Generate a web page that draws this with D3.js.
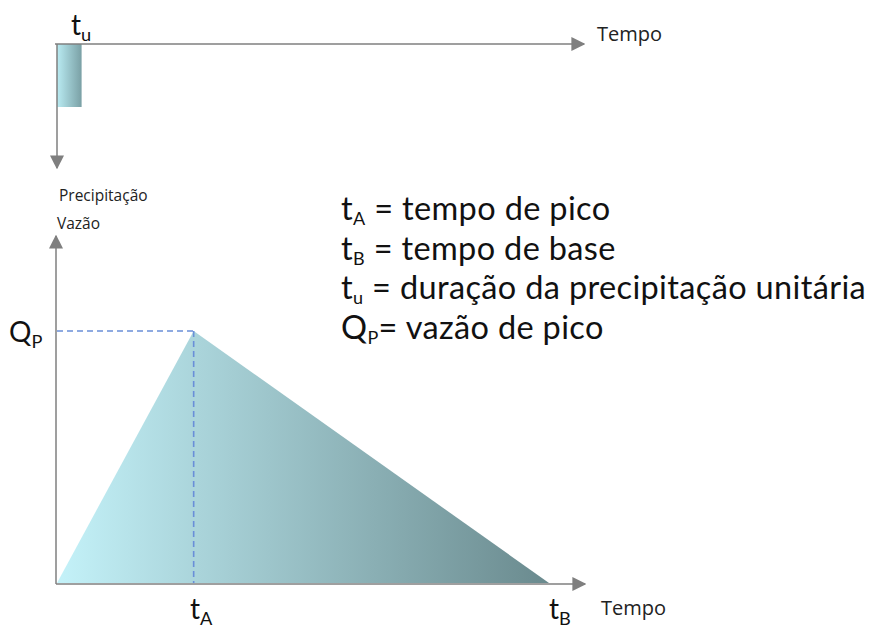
<!DOCTYPE html>
<html>
<head>
<meta charset="utf-8">
<script src="https://cdn.jsdelivr.net/npm/d3@7"></script>
<style>
  body { margin: 0; background: #fff; }
  svg { display: block; }
</style>
</head>
<body>
<div id="main"></div>
<script>
// hidrograma unitário triangular
const tempos = { tu: 0.9, tA: 5, tB: 18 };
const vazaoPico = 1;
const precipitacao = [{ t0: 0, t1: tempos.tu, p: 1 }];
const hidrograma = [[0, 0], [tempos.tA, vazaoPico], [tempos.tB, 0]];
const legenda = [
  { s: "t", sub: "A", txt: " = tempo de pico" },
  { s: "t", sub: "B", txt: " = tempo de base" },
  { s: "t", sub: "u", txt: " = duração da precipitação unitária" },
  { s: "Q", sub: "P", txt: "= vazão de pico" }
];

const W = 875, H = 634;
const svg = d3.select("#main").append("svg").attr("width", W).attr("height", H);

const defs = svg.append("defs");
defs.append("marker").attr("id", "seta")
  .attr("viewBox", "0 0 10 10").attr("refX", 9).attr("refY", 5)
  .attr("markerWidth", 14).attr("markerHeight", 14).attr("markerUnits", "userSpaceOnUse")
  .attr("orient", "auto")
  .append("path").attr("d", "M0,0 L10,5 L0,10 Z").attr("fill", "#7f7f7f");

function grad(id, c0, c1) {
  const g = defs.append("linearGradient").attr("id", id)
    .attr("x1", "0%").attr("x2", "100%").attr("y1", "0%").attr("y2", "0%");
  g.append("stop").attr("offset", "0%").attr("stop-color", c0);
  g.append("stop").attr("offset", "100%").attr("stop-color", c1);
}
grad("gradHid", "#c4f2f9", "#6a8a8e");
grad("gradBar", "#b9ebf2", "#7aa0a5");

const x = d3.scaleLinear().domain([0, tempos.tB]).range([57, 549]);
const yQ = d3.scaleLinear().domain([0, vazaoPico]).range([583, 331]);
const yP = d3.scaleLinear().domain([0, 1]).range([44, 107]);

const eixo = "#7f7f7f";

// --- precipitação (topo)
svg.selectAll("rect.chuva").data(precipitacao).join("rect").attr("class", "chuva")
  .attr("x", d => x(d.t0)).attr("y", yP(0))
  .attr("width", d => x(d.t1) - x(d.t0)).attr("height", d => yP(d.p) - yP(0))
  .attr("fill", "url(#gradBar)");

svg.append("line").attr("x1", 55).attr("y1", yP(0)).attr("x2", 584).attr("y2", yP(0))
  .attr("stroke", eixo).attr("stroke-width", 1.5).attr("marker-end", "url(#seta)");
svg.append("line").attr("x1", 57).attr("y1", yP(0)).attr("x2", 57).attr("y2", 168)
  .attr("stroke", eixo).attr("stroke-width", 1.5).attr("marker-end", "url(#seta)");

// --- hidrograma
svg.append("path").datum(hidrograma)
  .attr("d", d3.line().x(d => x(d[0])).y(d => yQ(d[1])))
  .attr("fill", "url(#gradHid)");

svg.append("line").attr("x1", 56).attr("y1", 584).attr("x2", 56).attr("y2", 236)
  .attr("stroke", eixo).attr("stroke-width", 1.5).attr("marker-end", "url(#seta)");
svg.append("line").attr("x1", 56).attr("y1", 584).attr("x2", 585).attr("y2", 584)
  .attr("stroke", eixo).attr("stroke-width", 1.5).attr("marker-end", "url(#seta)");

const tracejado = { stroke: "#6a8fd8", "stroke-width": 1.6, "stroke-dasharray": "6,4" };
const l1 = svg.append("line").attr("x1", 57).attr("y1", yQ(vazaoPico))
  .attr("x2", x(tempos.tA)).attr("y2", yQ(vazaoPico));
const l2 = svg.append("line").attr("x1", x(tempos.tA)).attr("y1", yQ(vazaoPico))
  .attr("x2", x(tempos.tA)).attr("y2", 583);
[l1, l2].forEach(l => Object.entries(tracejado).forEach(([k, v]) => l.attr(k, v)));

// --- textos
const fonteG = "Lato, 'Open Sans', sans-serif";
const fonteP = "'Open Sans', 'Noto Sans', sans-serif";

function rotulo(xp, yp, s, sub, size) {
  const t = svg.append("text").attr("x", xp).attr("y", yp)
    .attr("font-family", fonteG).attr("font-size", size).attr("fill", "#111");
  t.append("tspan").text(s);
  t.append("tspan").attr("font-size", size * 0.65).attr("dy", size * 0.22).text(sub);
  return t;
}

rotulo(71, 35, "t", "u", 28);
rotulo(9, 342, "Q", "P", 28);
rotulo(190, 619, "t", "A", 28);
rotulo(549, 619, "t", "B", 28);

function pequeno(xp, yp, txt, size) {
  svg.append("text").attr("x", xp).attr("y", yp).attr("font-family", fonteP)
    .attr("font-size", size).attr("fill", "#222").text(txt);
}
pequeno(597, 41, "Tempo", 20);
pequeno(601, 615, "Tempo", 20);
pequeno(59, 201, "Precipitação", 15.5);
pequeno(57, 229, "Vazão", 15.5);

legenda.forEach((d, i) => {
  const t = svg.append("text").attr("x", 341).attr("y", 220 + i * 39.5)
    .attr("font-family", fonteG).attr("font-size", 32.5).attr("letter-spacing", 0.35)
    .attr("fill", "#111");
  t.append("tspan").text(d.s);
  t.append("tspan").attr("font-size", 18).attr("dy", 5).text(d.sub);
  t.append("tspan").attr("dy", -5).text(d.txt);
});
</script>
</body>
</html>
